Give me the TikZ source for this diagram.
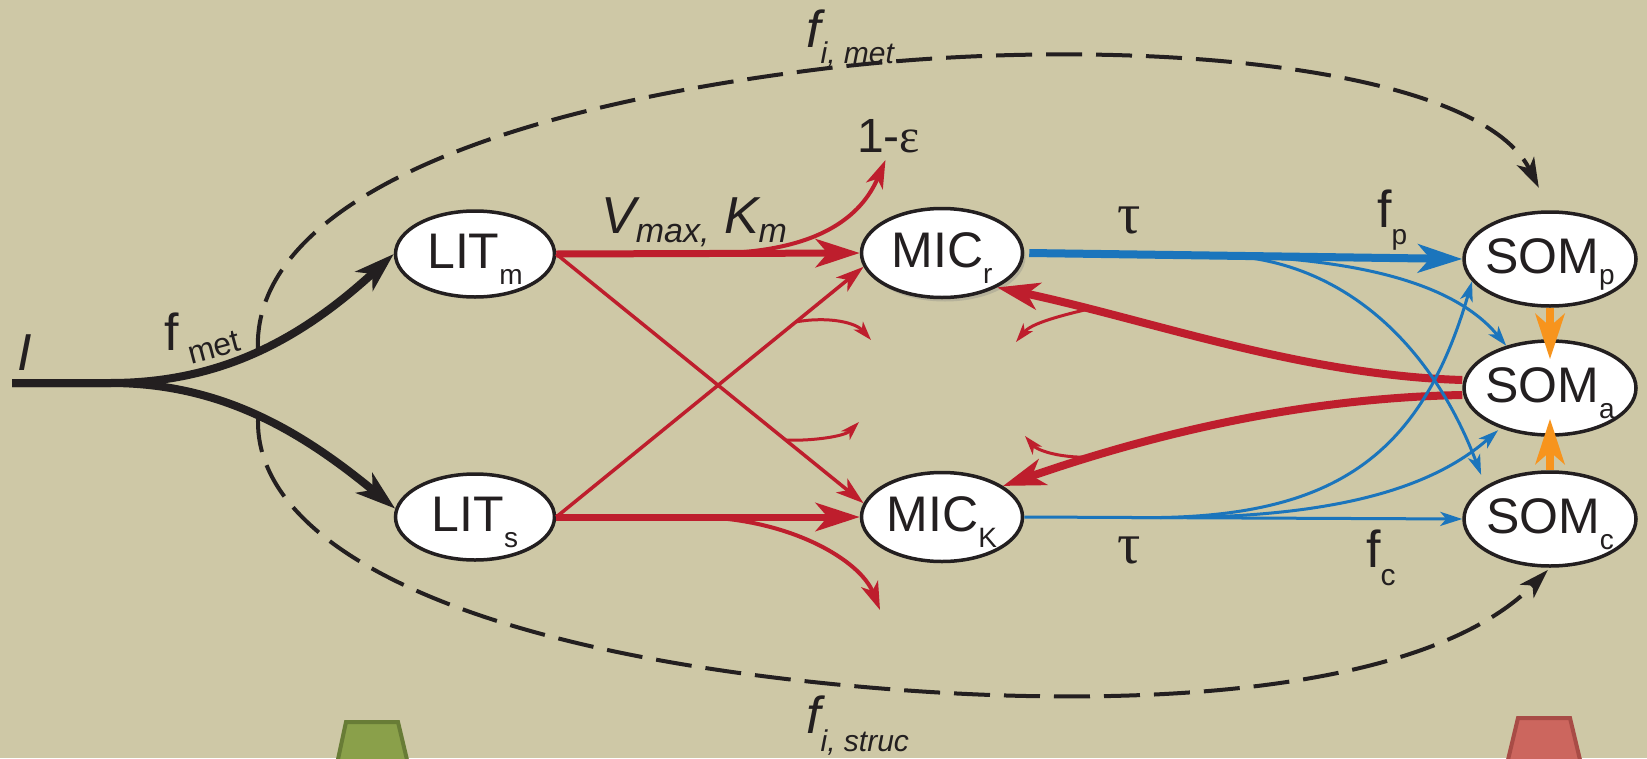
\documentclass[tikz,border=0pt]{standalone}
\usepackage{fontspec}
\setmainfont{Liberation Sans}
\newfontfamily\grk{Liberation Serif}
\usetikzlibrary{shapes.geometric,arrows.meta,shadows}
\definecolor{bg}{RGB}{206,200,166}
\definecolor{ink}{RGB}{35,31,32}
\definecolor{rd}{RGB}{190,30,45}
\definecolor{bl}{RGB}{27,117,188}
\definecolor{org}{RGB}{247,148,29}
\definecolor{grn}{RGB}{138,160,74}
\definecolor{grnd}{RGB}{104,124,54}
\definecolor{rtr}{RGB}{204,102,94}
\definecolor{rtrd}{RGB}{168,76,70}
\newcommand\ndtxt[3][16pt]{\makebox[0pt]{\smash{\raisebox{-14pt}{\fontsize{50}{50}\selectfont #2\raisebox{-#1}{\fontsize{28}{28}\selectfont #3}}}}}
\begin{document}
\begin{tikzpicture}[x=1pt,y=-1pt,
  pool/.style={ellipse, draw=ink, line width=3.5pt, fill=white, inner sep=0pt, text=ink},
  litbox/.style={pool, minimum width=159pt, minimum height=86pt},
  micbox/.style={pool, minimum width=161pt, minimum height=89pt},
  sombox/.style={pool, minimum width=172pt, minimum height=94pt},
  lab/.style={inner sep=0pt, text=ink, anchor=base west},
  bigtip/.style={-{Stealth[length=#1,width=0.64*#1,inset=0.27*#1]}},
  blk/.style={draw=ink, line width=8pt},
  dsh/.style={draw=ink, line width=4pt, dash pattern=on 36pt off 14pt},
  rthick/.style={draw=rd, line width=7pt},
  rthin/.style={draw=rd, line width=3.5pt},
  rbr/.style={draw=rd, line width=3pt},
  bthick/.style={draw=bl, line width=8pt},
  bthin/.style={draw=bl, line width=3pt},
  ora/.style={draw=org, line width=8pt}
]
\fill[bg] (0,0) rectangle (1647,758);
\useasboundingbox (0,0) rectangle (1647,758);

% bottom trapezoids
\filldraw[fill=grn, draw=grnd, line width=4pt] (346,722) -- (398,722) -- (408,764) -- (337,764) -- cycle;
\filldraw[fill=rtr, draw=rtrd, line width=4pt] (1518,718) -- (1570,718) -- (1581,764) -- (1507,764) -- cycle;

% nodes
\node[litbox] (LITm) at (475,254) {\ndtxt{LIT}{m}};
\node[litbox] (LITs) at (475,517) {\ndtxt{LIT}{s}};
\node[micbox, drop shadow={opacity=0.3, shadow xshift=3pt, shadow yshift=-4pt}] (MICr) at (942,253) {\ndtxt{MIC}{r}};
\node[micbox] (MICK) at (942,517) {\ndtxt{MIC}{K}};
\node[sombox] (SOMp) at (1550,259) {\ndtxt[11pt]{SOM}{p}};
\node[sombox] (SOMa) at (1550,388) {\ndtxt{SOM}{a}};
\node[sombox] (SOMc) at (1550,519) {\ndtxt{SOM}{c}};

% labels
\node[lab, anchor=base] (Ilab) at (25,370) {\itshape\fontsize{52}{52}\selectfont I};
\node[lab] (fmet) at (164,350) {\fontsize{52}{52}\selectfont f\hspace{7pt}\raisebox{-14pt}{\rotatebox{15}{\fontsize{32}{32}\selectfont met}}};
\node[lab] (vk) at (601,233) {\itshape\fontsize{52}{52}\selectfont V\raisebox{-9pt}{\fontsize{34}{34}\selectfont max,} K\raisebox{-9pt}{\fontsize{34}{34}\selectfont m}};
\node[lab] (eps) at (857,152) {\fontsize{48}{48}\selectfont 1-{\grk ε}};
\node[lab, anchor=base] (tauA) at (1129,233) {\grk\fontsize{58}{58}\selectfont τ};
\node[lab, anchor=base] (tauB) at (1129,563) {\grk\fontsize{58}{58}\selectfont τ};
\node[lab] (fp) at (1377,227) {\fontsize{52}{52}\selectfont f\raisebox{-17pt}{\fontsize{28}{28}\selectfont p}};
\node[lab] (fc) at (1366,567) {\fontsize{52}{52}\selectfont f\raisebox{-18pt}{\fontsize{30}{30}\selectfont c}};
\node[lab] (fim) at (806,47) {\itshape\fontsize{52}{52}\selectfont f\raisebox{-16pt}{\fontsize{30}{30}\selectfont i, met}};
\node[lab] (fis) at (806,733) {\itshape\fontsize{52}{52}\selectfont f\raisebox{-18pt}{\fontsize{30}{30}\selectfont i, struc}};

% black input flows
\coordinate (I0) at (12,383);
\coordinate (sp) at (110,383);
\draw[blk, bigtip=40pt] (I0) -- (sp) .. controls (220,383) and (300,340) .. coordinate[pos=0.5] (du) (LITm.west);
\draw[blk, bigtip=40pt] (I0) -- (sp) .. controls (220,383) and (300,430) .. coordinate[pos=0.5] (dl) (LITs.174);

% dashed flows
\draw[dsh, bigtip=30pt, shorten >=25pt] (du) .. controls (252,230) and (420,120) .. (813,70) .. controls (1100,33) and (1475,60) .. (SOMp.north);
\draw[dsh, bigtip=30pt, shorten >=3pt] (dl) .. controls (252,530) and (420,640) .. (813,682) .. controls (1100,713) and (1420,700) .. (SOMc.south);

% red flows from litter
\draw[rthick, bigtip=44pt] (LITm.east) -- coordinate[pos=0.49] (b1) (MICr.west);
\draw[rthin, bigtip=28pt] (LITm.east) -- coordinate[pos=0.747] (b2) (MICK.170);
\draw[rthin, bigtip=28pt] (LITs.east) -- coordinate[pos=0.78] (b3) (MICr.190);
\draw[rthick, bigtip=44pt] (LITs.east) -- coordinate[pos=0.47] (b4) (MICK.west);
\draw[draw=rd, line width=4pt, bigtip=28pt, shorten >=8pt] (b1) .. controls (820,254) and (862,215) .. (eps.south);
\coordinate (e2) at (859,422);
\coordinate (e3) at (871,340);
\coordinate (e4) at (880,610);
\draw[rbr, bigtip=19pt] (b2) .. controls (815,441) and (845,436) .. (e2);
\draw[rbr, bigtip=19pt] (b3) .. controls (830,316) and (856,323) .. (e3);
\draw[draw=rd, line width=4pt, bigtip=28pt] (b4) .. controls (790,519) and (860,560) .. (e4);

% red flows from SOMa
\draw[draw=rd, line width=8pt, bigtip=42pt] ([yshift=8pt]SOMa.west) .. controls (1300,375) and (1150,320) .. coordinate[pos=0.8] (b5) (MICr.-32);
\draw[draw=rd, line width=8pt, bigtip=42pt] ([yshift=-7pt]SOMa.west) .. controls (1300,398) and (1150,435) .. coordinate[pos=0.8] (b6) (MICK.27);
\coordinate (e5) at (1016,342);
\coordinate (e6) at (1025,436);
\draw[rbr, bigtip=19pt] (b5) .. controls (1050,318) and (1030,325) .. (e5);
\draw[rbr, bigtip=19pt] (b6) .. controls (1055,458) and (1036,449) .. (e6);

% blue flows
\draw[bthick, bigtip=44pt] ([xshift=5pt]MICr.east) -- coordinate[pos=0.46] (bb2) coordinate[pos=0.49] (bb1) (SOMp.west);
\draw[bthin, bigtip=22pt] (MICK.east) -- coordinate[pos=0.243] (bb3) coordinate[pos=0.31] (bb4) (SOMc.west);
\draw[bthin, bigtip=20pt] (bb1) .. controls (1380,262) and (1460,290) .. (SOMa.136);
\draw[bthin, bigtip=20pt, shorten >=12pt] (bb2) .. controls (1340,262) and (1430,340) .. (SOMc.153);
\draw[bthin, bigtip=20pt] (bb3) .. controls (1330,521) and (1420,460) .. (SOMp.196);
\draw[bthin, bigtip=20pt, shorten >=3pt] (bb4) .. controls (1330,518) and (1430,490) .. (SOMa.219);

% orange
\draw[ora, bigtip=45pt, shorten >=-20pt] (SOMp.south) -- (SOMa.north);
\draw[ora, bigtip=45pt, shorten >=-18pt] (SOMc.north) -- (SOMa.south);
\end{tikzpicture}
\end{document}
